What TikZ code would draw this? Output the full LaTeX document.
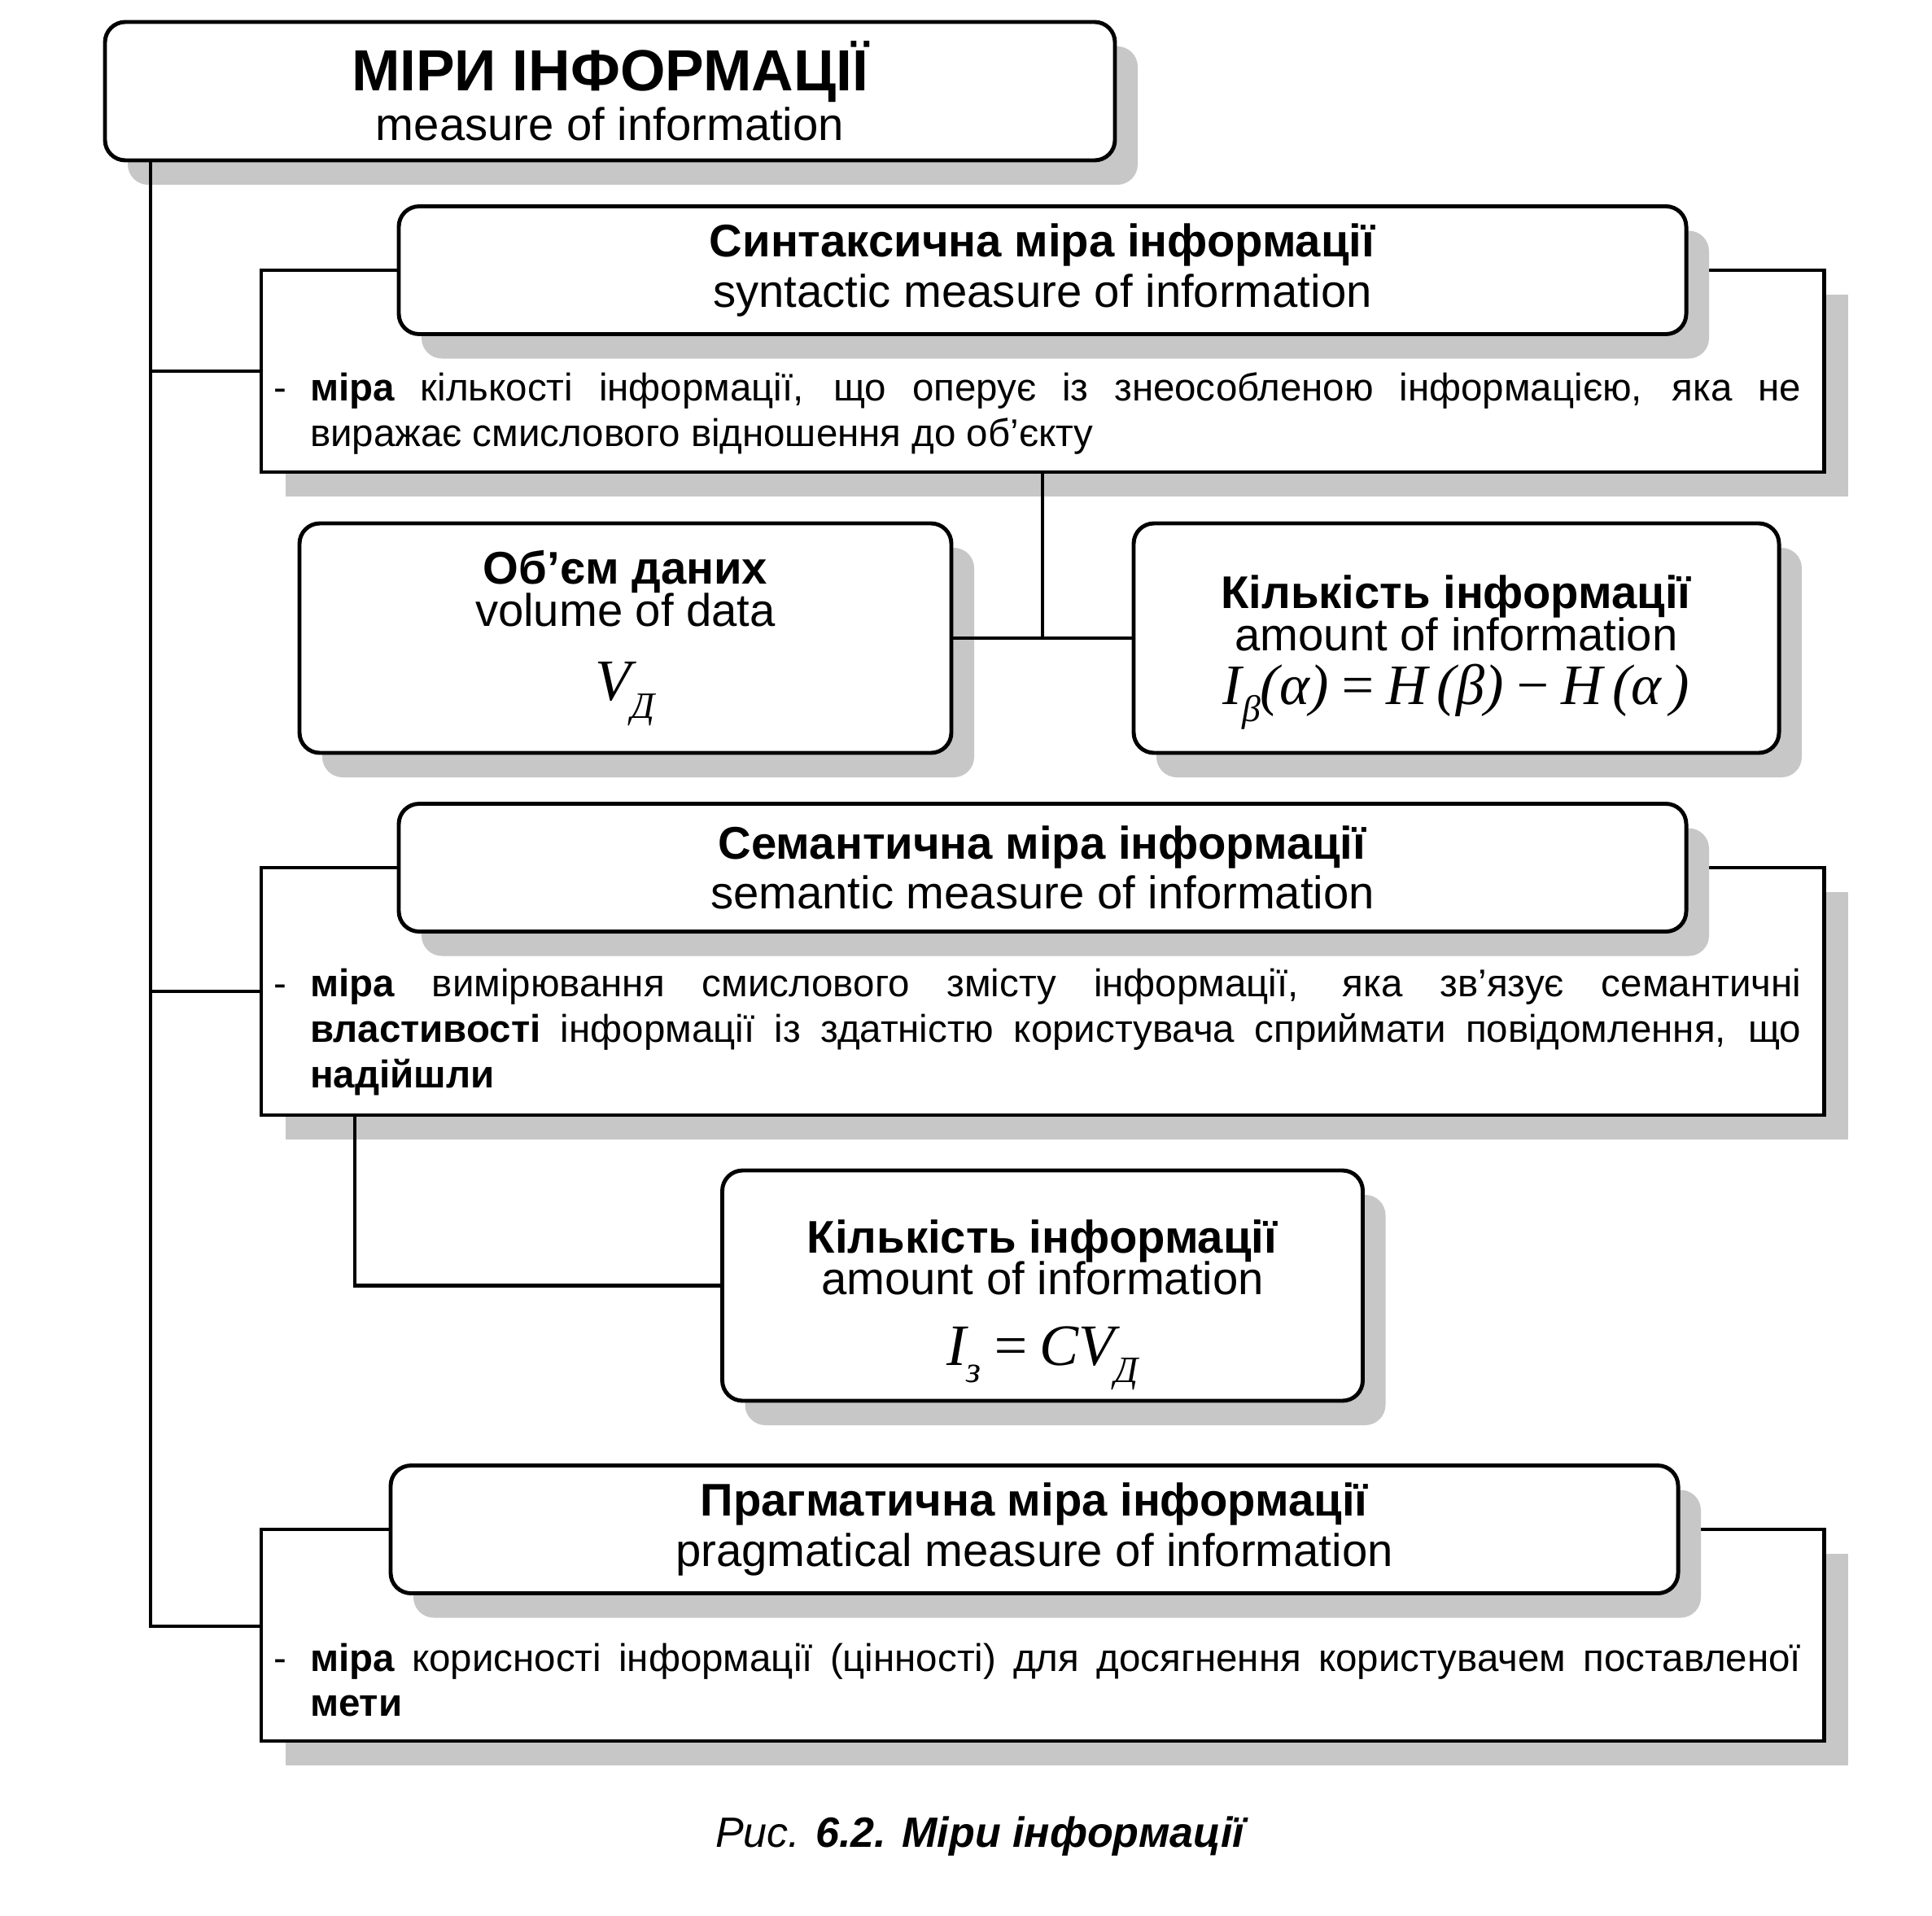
\documentclass[tikz,border=0pt]{standalone}
\usepackage{fontspec}
\setmainfont{Liberation Sans}
\newfontfamily\frmfont{Liberation Serif}
\usetikzlibrary{positioning, shadows}
\definecolor{shGray}{gray}{0.78}
\newcommand{\lowsub}[1]{\raisebox{-0.3em}{\fontsize{13}{13}\selectfont #1}}
\newcommand{\dashitem}[1]{\parbox{18.77cm}{\hangindent=0.45cm\hangafter=1\noindent\makebox[0.45cm][l]{-}#1}}

\begin{document}
\begin{tikzpicture}[
  font=\fontsize{16}{17.5}\selectfont,
  root/.style={draw, line width=1.4pt, fill=white, rounded corners=0.25cm, align=center,
               inner sep=0pt, outer sep=0pt, minimum width=12.41cm, minimum height=1.70cm,
               drop shadow={shadow xshift=0.28cm, shadow yshift=-0.3cm, fill=shGray, opacity=1}},
  area/.style={draw, line width=1.4pt, fill=white, inner sep=0pt, outer sep=0pt, minimum width=19.2cm,
               drop shadow={shadow xshift=0.3cm, shadow yshift=-0.3cm, fill=shGray, opacity=1}},
  head/.style={root, minimum width=15.82cm, minimum height=1.57cm},
  res/.style={root, minimum width=7.95cm, minimum height=2.82cm},
  desc/.style={inner sep=0pt, font=\fontsize{13.5}{15.9}\selectfont},
  edge/.style={draw, line width=1.2pt},
]
\useasboundingbox (0,0) rectangle (23.74,-23.53);

\node[root] (title) at (7.495,-1.12)
  {{\fontsize{20.3}{24}\selectfont\bfseries МІРИ ІНФОРМАЦІЇ}\\measure of information};
\coordinate (trunk) at (1.85,0);

% syntactic measure
\node[area, minimum height=2.48cm, below=1.35cm of title, xshift=5.315cm] (synto) {};
\node[head] (synth) at (synto.north)
  {\textbf{Синтаксична міра інформації}\\syntactic measure of information};
\node[desc, xshift=-0.065cm, yshift=-0.52cm] (syntd) at (synto)
  {\dashitem{\textbf{міра} кількості інформації, що оперує із знеособленою інформацією, яка не\linebreak виражає смислового відношення до об’єкту}};

\node[res, minimum width=8.01cm, below=0.63cm of synto, xshift=-5.125cm] (vol)
  {\textbf{Об’єм даних}\\[-0.1cm]volume of data\\[0.3cm]{\frmfont\itshape\fontsize{20.5}{21}\selectfont V\lowsub{Д}}};
\node[res, minimum width=7.93cm, below=0.63cm of synto, xshift=5.085cm] (amt)
  {\\[0.15cm]\textbf{Кількість інформації}\\[-0.1cm]amount of information\\[0.05cm]{\frmfont\itshape\fontsize{20}{21}\selectfont I\lowsub{β}(α)\,=\,H\,(β)\,−\,H\,(α\,)}};

% semantic measure
\node[area, minimum height=3.04cm, below=4.86cm of synto] (semo) {};
\node[head] (semh) at (semo.north)
  {\textbf{Семантична міра інформації}\\semantic measure of information};
\node[desc, xshift=-0.065cm, yshift=-0.5cm] (semd) at (semo)
  {\dashitem{\textbf{міра} вимірювання смислового змісту інформації, яка зв’язує семантичні\linebreak \textbf{властивості} інформації із здатністю користувача сприймати повідомлення, що\linebreak \textbf{надійшли}}};

\node[res, minimum width=7.87cm, minimum height=2.83cm, below=0.68cm of semo] (amt2)
  {\\[0.27cm]\textbf{Кількість інформації}\\[-0.1cm]amount of information\\[0.25cm]{\frmfont\itshape\fontsize{20.5}{21}\selectfont I\lowsub{з}\,=\,CV\lowsub{Д}}};
\coordinate (semdrop) at ([xshift=1.15cm]semo.south west);

% pragmatic measure
\node[area, minimum height=2.6cm, below=1.58cm of amt2] (prago) {};
\node[head, xshift=-0.1cm] (pragh) at (prago.north)
  {\textbf{Прагматична міра інформації}\\pragmatical measure of information};
\node[desc, xshift=-0.065cm, yshift=-0.55cm] (pragd) at (prago)
  {\dashitem{\textbf{міра} корисності інформації (цінності) для досягнення користувачем поставленої\linebreak \textbf{мети}}};
\coordinate (pragin) at ([yshift=0.11cm]prago.west);

% connectors
\draw[edge] (trunk |- title.south) -- (trunk |- pragin) -- (pragin);
\draw[edge] (trunk |- synto.west) -- (synto.west);
\draw[edge] (trunk |- semo.west) -- (semo.west);
\draw[edge] (synto.south) -- (synto.south |- vol.east);
\draw[edge] (vol.east) -- (amt.west);
\draw[edge] (semdrop) |- (amt2.west);

\node[font=\fontsize{14.8}{18}\selectfont\itshape] (cap) at (12.04,-22.56)
  {Рис. \textbf{6.2. Міри інформації}};
\end{tikzpicture}
\end{document}
